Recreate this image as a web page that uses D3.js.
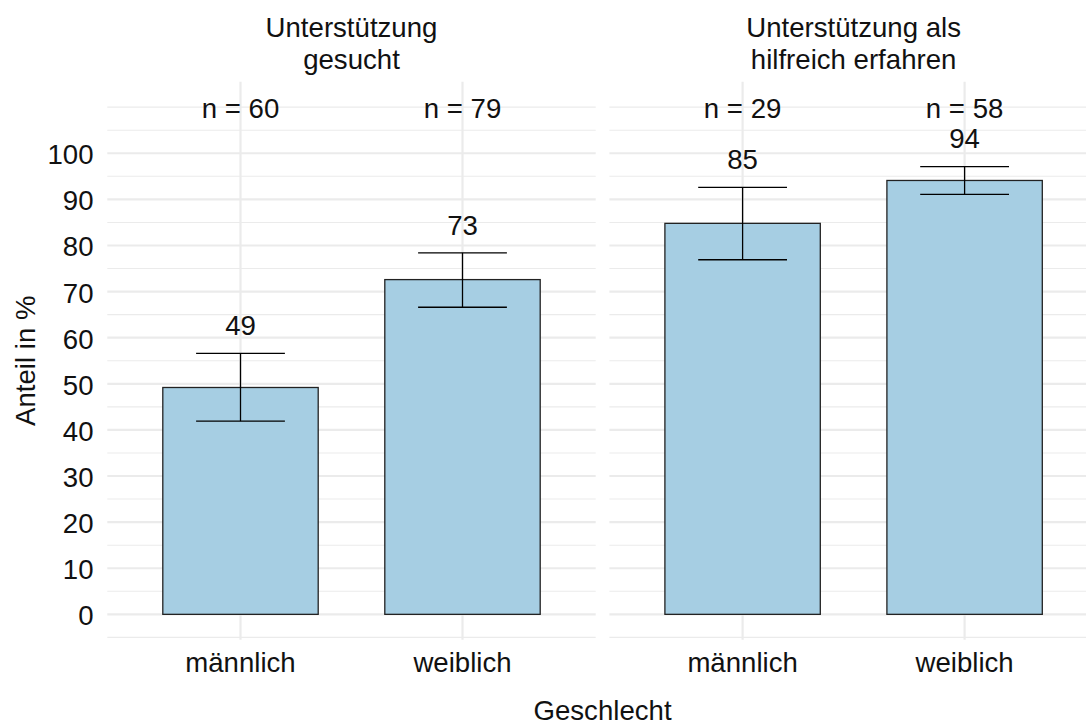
<!DOCTYPE html>
<html>
<head>
<meta charset="utf-8">
<script src="https://cdn.jsdelivr.net/npm/d3@7"></script>
<style>
  html, body { margin: 0; padding: 0; background: #fff; }
  svg { display: block; font-family: "Liberation Sans", Arial, Helvetica, sans-serif; }
</style>
</head>
<body>
<div id="chart"></div>
<script>
// Data
const facets = ["Unterstützung\ngesucht", "Unterstützung als\nhilfreich erfahren"];
const categories = ["männlich", "weiblich"];
const shares = [[49.2, 72.6], [84.8, 94.1]];
const lower = [[41.9, 66.6], [76.9, 91.1]];
const upper = [[56.6, 78.4], [92.6, 97.1]];
const counts = [[60, 79], [29, 58]];
const yTicks = [0, 10, 20, 30, 40, 50, 60, 70, 80, 90, 100];
const yMinor = [-5, 5, 15, 25, 35, 45, 55, 65, 75, 85, 95, 105, 110];

const width = 1086, height = 725;
const fontSize = 27.6;
const textColor = "#111";
const gridColor = "#ebebeb";

const svg = d3.select("#chart")
    .append("svg")
    .attr("width", width)
    .attr("height", height);

// Panel geometry
const panelWidth = 488.4;
const panelGap = 13.7;
const panelLeft = 107.3;
const panelTop = 81.8, panelBottom = 639.7;

const yScale = d3.scaleLinear()
    .domain([-5.5, 115.5])
    .range([panelBottom, panelTop]);

facets.forEach((title, fi) => {
    const x0 = panelLeft + fi * (panelWidth + panelGap);
    const xScale = d3.scalePoint()
        .domain(categories)
        .range([x0, x0 + panelWidth])
        .padding(0.6);
    const step = xScale.step();
    const barW = step * 0.7;
    const capW = step * 0.4;

    const g = svg.append("g");

    // minor grid
    g.selectAll(".minor")
        .data(yMinor)
        .enter()
        .append("line")
        .attr("x1", x0)
        .attr("x2", x0 + panelWidth)
        .attr("y1", d => yScale(d))
        .attr("y2", d => yScale(d))
        .attr("stroke", gridColor)
        .attr("stroke-width", 1.1);

    // major grid
    g.selectAll(".major")
        .data(yTicks)
        .enter()
        .append("line")
        .attr("x1", x0)
        .attr("x2", x0 + panelWidth)
        .attr("y1", d => yScale(d))
        .attr("y2", d => yScale(d))
        .attr("stroke", gridColor)
        .attr("stroke-width", 2.2);

    g.selectAll(".vgrid")
        .data(categories)
        .enter()
        .append("line")
        .attr("x1", d => xScale(d))
        .attr("x2", d => xScale(d))
        .attr("y1", panelTop)
        .attr("y2", panelBottom)
        .attr("stroke", gridColor)
        .attr("stroke-width", 2.2);

    // bars
    categories.forEach((c, i) => {
        const cx = xScale(c);
        g.append("rect")
            .attr("x", cx - barW / 2)
            .attr("y", yScale(shares[fi][i]))
            .attr("width", barW)
            .attr("height", yScale(0) - yScale(shares[fi][i]))
            .attr("fill", "#a6cee3")
            .attr("stroke", "#222")
            .attr("stroke-width", 1.3);

        // error bar
        const eb = g.append("g")
            .attr("stroke", "#000")
            .attr("stroke-width", 1.3);
        eb.append("line")
            .attr("x1", cx).attr("x2", cx)
            .attr("y1", yScale(lower[fi][i]))
            .attr("y2", yScale(upper[fi][i]));
        eb.append("line")
            .attr("x1", cx - capW / 2).attr("x2", cx + capW / 2)
            .attr("y1", yScale(lower[fi][i]))
            .attr("y2", yScale(lower[fi][i]));
        eb.append("line")
            .attr("x1", cx - capW / 2).attr("x2", cx + capW / 2)
            .attr("y1", yScale(upper[fi][i]))
            .attr("y2", yScale(upper[fi][i]));

        // value label
        g.append("text")
            .attr("x", cx)
            .attr("y", yScale(upper[fi][i] + 6.3) + 10.8)
            .attr("text-anchor", "middle")
            .attr("fill", textColor)
            .style("font-size", fontSize + "px")
            .text(Math.round(shares[fi][i]));

        // n label
        g.append("text")
            .attr("x", cx)
            .attr("y", yScale(110) + 11)
            .attr("text-anchor", "middle")
            .attr("fill", textColor)
            .style("font-size", fontSize + "px")
            .text(`n = ${counts[fi][i]}`);

        // x tick label
        g.append("text")
            .attr("x", cx)
            .attr("y", 671.7)
            .attr("text-anchor", "middle")
            .attr("fill", textColor)
            .style("font-size", fontSize + "px")
            .text(c);
    });

    // facet title
    const lines = title.split("\n");
    const t = g.append("text")
        .attr("text-anchor", "middle")
        .attr("fill", textColor)
        .style("font-size", fontSize + "px");
    lines.forEach((ln, li) => {
        t.append("tspan")
            .attr("x", x0 + panelWidth / 2)
            .attr("y", 36.7 + li * 32.6)
            .text(ln);
    });
});

// y axis labels
svg.append("g")
    .selectAll("text")
    .data(yTicks)
    .enter()
    .append("text")
    .attr("x", 93.5)
    .attr("y", d => yScale(d) + 11)
    .attr("text-anchor", "end")
    .attr("fill", textColor)
    .style("font-size", fontSize + "px")
    .text(d => d);

// axis titles
svg.append("text")
    .attr("transform", `translate(35,${(panelTop + panelBottom) / 2}) rotate(-90)`)
    .attr("text-anchor", "middle")
    .attr("fill", textColor)
    .style("font-size", fontSize + "px")
    .text("Anteil in %");

svg.append("text")
    .attr("x", panelLeft + (2 * panelWidth + panelGap) / 2)
    .attr("y", 720)
    .attr("text-anchor", "middle")
    .attr("fill", textColor)
    .style("font-size", fontSize + "px")
    .text("Geschlecht");
</script>
</body>
</html>
